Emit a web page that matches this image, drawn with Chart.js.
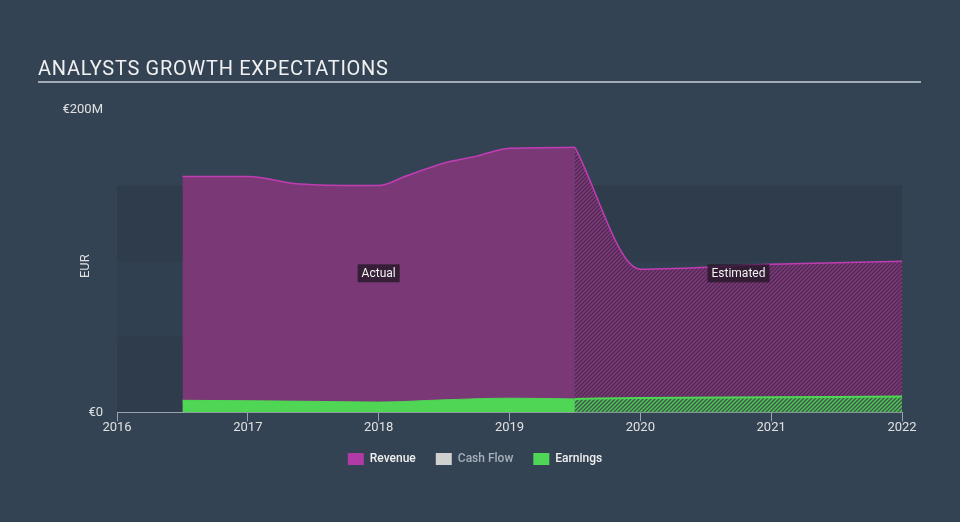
<!DOCTYPE html>
<html>
<head>
<meta charset="utf-8">
<script src="https://cdn.jsdelivr.net/npm/chart.js@4.4.0/dist/chart.umd.min.js"></script>
<style>
  html, body { margin: 0; padding: 0; background: #344354; }
  #wrap { width: 960px; height: 522px; }
</style>
</head>
<body>
<div id="wrap"><canvas id="grafico" width="960" height="522"></canvas></div>
<script>
// Dados (milhões de EUR)
const anosReceitaReal = [2016.5, 2017, 2017.4, 2017.9, 2018, 2018.2, 2018.5, 2018.75, 2019, 2019.5];
const receitaReal = [156, 156, 151, 150, 150, 156, 165, 169.5, 174.7, 175.3];
const anosReceitaEst = [2019.5, 2020, 2021, 2022];
const receitaEst = [175.3, 94.7, 98, 100];
const anosLucroReal = [2016.5, 2017, 2017.5, 2018, 2018.5, 2019, 2019.5];
const lucroReal = [8, 7.7, 7.3, 6.8, 8.3, 9.4, 8.9];
const anosLucroEst = [2019.5, 2020, 2021, 2022];
const lucroEst = [8.9, 9.5, 10, 10.5];

const ticksAnos = [2016, 2017, 2018, 2019, 2020, 2021, 2022];
const ticksValor = [0, 200];
const rotulosValor = ['€0', '€200M'];
const faixas = [[0, 50], [50, 100], [100, 150]];

const legendaNomes = ['Revenue', 'Cash Flow', 'Earnings'];

// cores
const corFundo = '#344354';
const corReceita = '#c23cb4';
const corReceitaFill = 'rgb(122, 57, 118)';
const corLucro = 'rgb(79, 214, 85)';

function pontos(xs, ys) {
  return xs.map((x, i) => ({ x: x, y: ys[i] }));
}

// padrão hachurado para as estimativas
function hachura(fundo, linha, tam) {
  const c = document.createElement('canvas');
  c.width = tam; c.height = tam;
  const g = c.getContext('2d');
  g.fillStyle = fundo;
  g.fillRect(0, 0, tam, tam);
  g.strokeStyle = linha;
  g.lineWidth = 1.4;
  g.beginPath();
  g.moveTo(0, tam); g.lineTo(tam, 0);
  g.moveTo(-1, 1); g.lineTo(1, -1);
  g.moveTo(tam - 1, tam + 1); g.lineTo(tam + 1, tam - 1);
  g.stroke();
  return g.createPattern(c, 'repeat');
}

const fundoPlugin = {
  id: 'fundo',
  beforeDraw(chart) {
    const { ctx, scales: { x, y } } = chart;
    ctx.save();
    ctx.fillStyle = corFundo;
    ctx.fillRect(0, 0, chart.width, chart.height);

    // titulo
    ctx.fillStyle = '#f0f0f0';
    ctx.font = '20px Roboto';
    ctx.letterSpacing = '0.7px';
    ctx.textBaseline = 'alphabetic';
    ctx.fillText('ANALYSTS GROWTH EXPECTATIONS', 38, 75);
    ctx.letterSpacing = '0px';
    ctx.fillStyle = '#a3abb4';
    ctx.fillRect(38, 81, 883, 2);

    // faixas de fundo
    faixas.forEach(([a, b], i) => {
      ctx.fillStyle = i % 2 === 0 ? 'rgba(28, 38, 50, 0.24)' : 'rgba(28, 38, 50, 0.1)';
      const topo = y.getPixelForValue(b);
      ctx.fillRect(x.left, topo, x.right - x.left, y.getPixelForValue(a) - topo);
    });

    // titulo do eixo
    ctx.translate(86, (y.top + y.bottom) / 2 + 5);
    ctx.rotate(-Math.PI / 2);
    ctx.fillStyle = '#e0e0e0';
    ctx.font = '13px Roboto';
    ctx.textAlign = 'center';
    ctx.textBaseline = 'middle';
    ctx.fillText('EUR', 0, 0);
    ctx.restore();
  },
  afterDatasetsDraw(chart) {
    const { ctx, scales: { x, y } } = chart;
    const rotulos = [['Actual', 2018], ['Estimated', 2020.75]];
    ctx.save();
    ctx.font = '12px Roboto';
    ctx.textAlign = 'center';
    ctx.textBaseline = 'middle';
    rotulos.forEach(([txt, ano]) => {
      const px = x.getPixelForValue(ano);
      const py = y.getPixelForValue(92);
      const w = ctx.measureText(txt).width + 8;
      ctx.fillStyle = 'rgba(38, 24, 40, 0.8)';
      ctx.fillRect(px - w / 2, py - 9, w, 18);
      ctx.fillStyle = '#f2f2f2';
      ctx.fillText(txt, px, py + 1);
    });
    ctx.restore();
  }
};

const ctx = document.getElementById('grafico');

new Chart(ctx, {
  type: 'line',
  data: {
    datasets: [
      {
        label: 'Revenue', data: pontos(anosReceitaReal, receitaReal),
        borderColor: corReceita, borderWidth: 1.5, backgroundColor: corReceitaFill,
        fill: 'origin', order: 2
      },
      {
        label: 'Revenue est', data: pontos(anosReceitaEst, receitaEst),
        borderColor: corReceita, borderWidth: 1.5,
        backgroundColor: hachura('rgb(78, 42, 80)', 'rgb(130, 58, 126)', 4),
        fill: 'origin', order: 2
      },
      {
        label: 'Earnings', data: pontos(anosLucroReal, lucroReal),
        borderColor: corLucro, borderWidth: 1, backgroundColor: corLucro,
        fill: 'origin', order: 1
      },
      {
        label: 'Earnings est', data: pontos(anosLucroEst, lucroEst),
        borderColor: corLucro, borderWidth: 2,
        backgroundColor: hachura('rgb(62, 88, 76)', 'rgb(79, 200, 85)', 4),
        fill: 'origin', order: 1
      }
    ]
  },
  options: {
    responsive: false,
    animation: false,
    elements: {
      point: { radius: 0 },
      line: { cubicInterpolationMode: 'monotone' }
    },
    layout: { padding: { top: 110, left: 0, right: 10, bottom: 47 } },
    scales: {
      x: {
        type: 'linear', min: 2016, max: 2022,
        afterBuildTicks: s => { s.ticks = ticksAnos.map(v => ({ value: v })); },
        afterFit: s => { s.height = s.height - 2; },
        ticks: { callback: v => String(v), color: '#e0e0e0', font: { family: 'Roboto', size: 13 }, padding: -1, maxRotation: 0 },
        grid: { drawOnChartArea: false, drawTicks: true, tickLength: 9, color: '#9aa4ae' },
        border: { color: '#9aa4ae', width: 1 }
      },
      y: {
        min: 0, max: 200,
        afterBuildTicks: s => { s.ticks = ticksValor.map(v => ({ value: v })); },
        afterFit: s => { s.width = 117; },
        ticks: { callback: v => rotulosValor[ticksValor.indexOf(v)], color: '#e0e0e0', font: { family: 'Roboto', size: 13 }, padding: 14 },
        grid: { display: false, drawTicks: false },
        border: { display: false }
      },
      // eixo vazio à direita só para reservar a margem
      margem: {
        position: 'right', min: 0, max: 200,
        afterFit: s => { s.width = 48; },
        ticks: { display: false },
        grid: { display: false, drawTicks: false },
        border: { display: false }
      }
    },
    plugins: {
      tooltip: { enabled: false },
      legend: {
        position: 'bottom',
        onClick: null,
        labels: {
          boxWidth: 16, boxHeight: 12, padding: 20,
          font: { family: 'Roboto', size: 12, weight: '500' },
          generateLabels: () => legendaNomes.map((nome, i) => {
            const cores = ['#b03aa6', '#d0d0d0', '#4fd656'];
            const textos = ['#f0f0f0', '#a7b0ba', '#f0f0f0'];
            return { text: nome, fillStyle: cores[i], strokeStyle: cores[i], lineWidth: 0, fontColor: textos[i], hidden: false };
          })
        }
      }
    }
  },
  plugins: [fundoPlugin]
});
</script>
</body>
</html>
